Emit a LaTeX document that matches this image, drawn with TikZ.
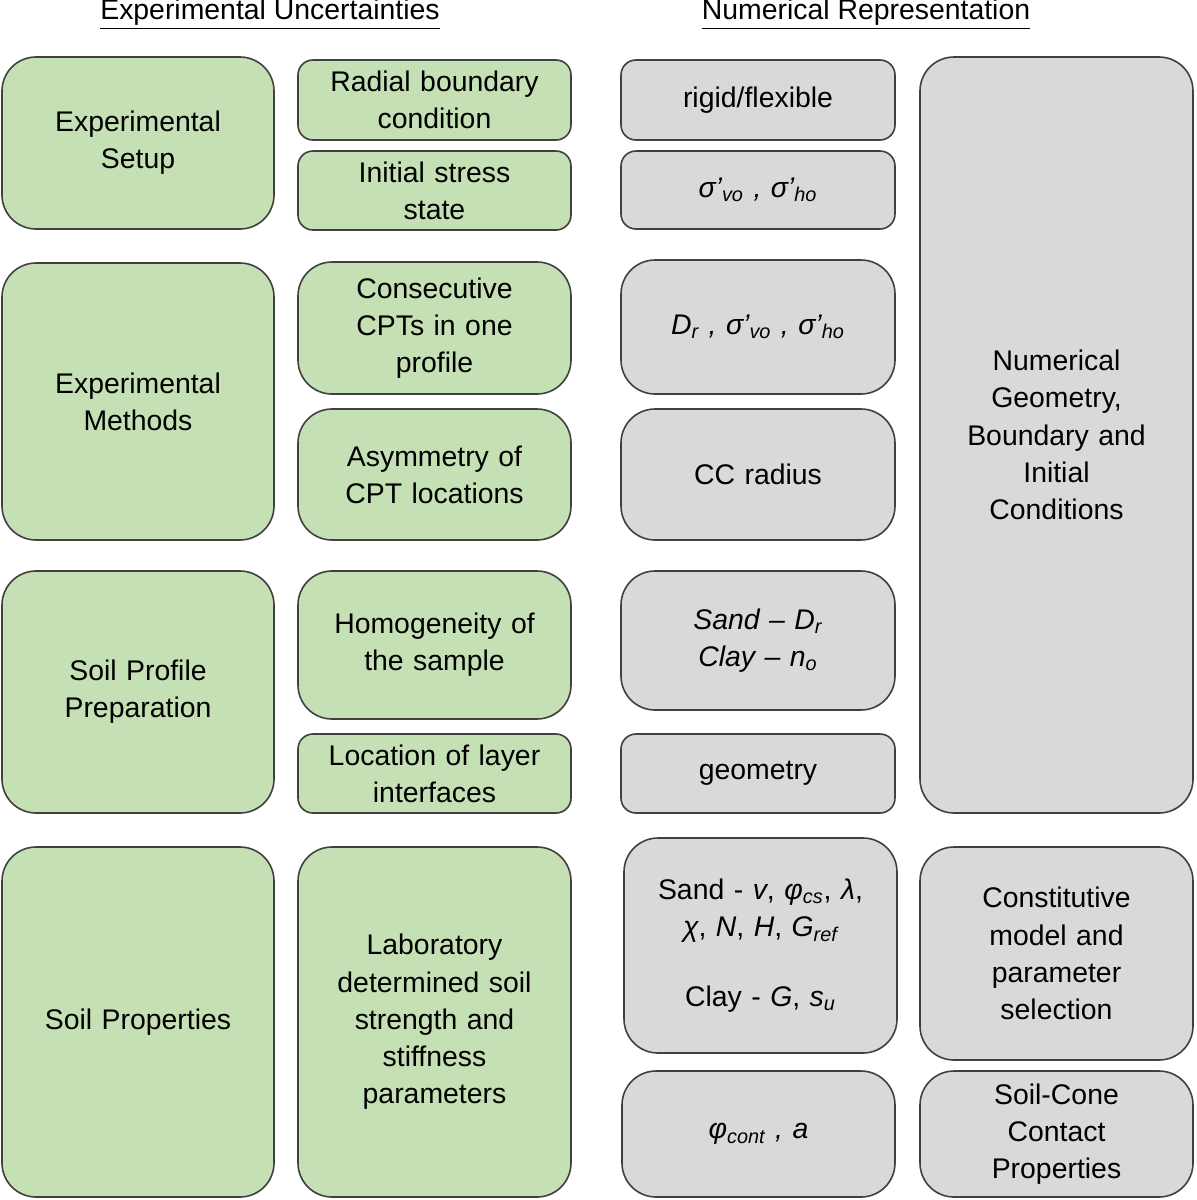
\documentclass[tikz,border=0pt]{standalone}
\usepackage{fontspec}
\setmainfont{Liberation Sans}
\begin{document}
\begin{tikzpicture}[x=0.5pt,y=-0.5pt,
 base/.style={draw=black!75,line width=0.8pt,align=center,inner sep=2pt,font=\fontsize{14.2}{18.6}\selectfont},
 g/.style={base,fill=green!20!olive!15!white,fill={rgb,255:red,197;green,224;blue,180}},
 k/.style={base,fill={rgb,255:red,217;green,217;blue,217}},
 s/.style={rounded corners=7.5pt},
 l/.style={rounded corners=17pt}]
\useasboundingbox (0,0) rectangle (1196,1200);
\newcommand\bx[7]{\node[#2,minimum width={(#5-#3)*0.5pt},minimum height={(#6-#4)*0.5pt},text width={(#5-#3)*0.5pt-8pt}] (#1) at ({(#3+#5)/2},{(#4+#6)/2}) {#7};}
\node[font=\fontsize{14.2}{18.6}\selectfont] (h1) at (270,14) {\underline{Experimental Uncertainties}};
\node[font=\fontsize{14.2}{18.6}\selectfont] (h2) at (866,14) {\underline{Numerical Representation}};
\bx{a1}{g,l}{2}{57}{274}{229}{Experimental\\Setup}
\bx{a2}{g,l}{2}{263}{274}{540}{Experimental\\Methods}
\bx{a3}{g,l}{2}{571}{274}{813}{Soil Profile\\Preparation}
\bx{a4}{g,l}{2}{847}{274}{1197}{Soil Properties}
\bx{b1}{g,s}{298}{60}{571}{140}{Radial boundary\\condition}
\bx{b2}{g,s}{298}{151}{571}{230}{Initial stress\\state}
\bx{b3}{g,l}{298}{262}{571}{394}{Consecutive\\CPTs in one\\profile}
\bx{b4}{g,l}{298}{409}{571}{540}{Asymmetry of\\CPT locations}
\bx{b5}{g,l}{298}{571}{571}{719}{Homogeneity of\\the sample}
\bx{b6}{g,s}{298}{734}{571}{813}{Location of layer\\interfaces}
\bx{b7}{g,l}{298}{847}{571}{1197}{Laboratory\\determined soil\\strength and\\stiffness\\parameters}
\bx{c1}{k,s}{621}{60}{895}{140}{rigid/flexible}
\bx{c2}{k,s}{621}{151}{895}{229}{\textit{σ’\textsubscript{vo} , σ’\textsubscript{ho}}}
\bx{c3}{k,l}{621}{260}{895}{394}{\textit{D\textsubscript{r} , σ’\textsubscript{vo} , σ’\textsubscript{ho}}}
\bx{c4}{k,l}{621}{409}{895}{540}{CC radius}
\bx{c5}{k,l}{621}{571}{895}{710}{\textit{Sand – D\textsubscript{r}}\\\textit{Clay – n\textsubscript{o}}}
\bx{c6}{k,s}{621}{734}{895}{813}{geometry}
\bx{c7}{k,l}{624}{838}{897}{1053}{Sand - \textit{v}, \textit{φ\textsubscript{cs}}, \textit{λ},\\\textit{χ}, \textit{N}, \textit{H}, \textit{G\textsubscript{ref}}\\[16pt]Clay - \textit{G}, \textit{s\textsubscript{u}}}
\bx{c8}{k,l}{622}{1071}{895}{1197}{\textit{φ\textsubscript{cont} , a}}
\bx{d1}{k,l}{920}{57}{1193}{813}{Numerical\\Geometry,\\Boundary and\\Initial\\Conditions}
\bx{d2}{k,l}{920}{847}{1193}{1060}{Constitutive\\model and\\parameter\\selection}
\bx{d3}{k,l}{920}{1071}{1193}{1197}{Soil-Cone\\Contact\\Properties}
\end{tikzpicture}
\end{document}
